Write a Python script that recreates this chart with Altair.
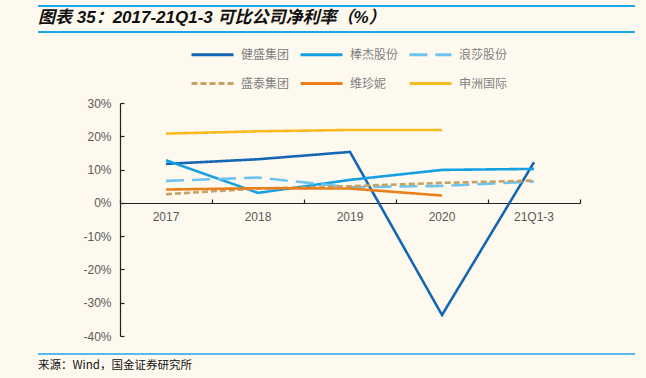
import altair as alt
import pandas as pd

periods = ["2017", "2018", "2019", "2020", "21Q1-3"]
companies = ["健盛集团", "棒杰股份", "浪莎股份", "盛泰集团", "维珍妮", "申洲国际"]
jiansheng = [11.7, 13.1, 15.3, -33.7, 12.2]
bangjie = [12.8, 3.0, 6.9, 9.9, 10.2]
langsha = [6.6, 7.6, 4.7, 5.1, 6.4]
shengtai = [2.6, 4.3, 5.0, 6.0, 6.7]
vinjing = [4.0, 4.4, 4.3, 2.2, None]
shenzhou = [20.8, 21.5, 21.9, 21.9, None]
colors = ["#1467B3", "#14A0E2", "#6EC4F0", "#C4A266", "#E9801B", "#F7BA1F"]
dashes = [[1, 0], [1, 0], [18, 8], [6, 3], [1, 0], [1, 0]]

series = [jiansheng, bangjie, langsha, shengtai, vinjing, shenzhou]
rows = []
for name, vals in zip(companies, series):
    for p, v in zip(periods, vals):
        if v is not None:
            rows.append({"period": p, "company": name, "value": v})
df = pd.DataFrame(rows)

# legend grid is filled column by column, so order the domain accordingly
legend_order = [0, 3, 1, 4, 2, 5]
dom = [companies[i] for i in legend_order]
col_range = [colors[i] for i in legend_order]
dash_range = [dashes[i] for i in legend_order]

W, H = 460, 233
FONT = "Liberation Sans, Noto Sans CJK SC"
CJK = "Noto Sans CJK SC"

legend_kw = dict(orient="none", legendX=70, legendY=-71, columns=3,
                 symbolType="stroke", symbolSize=1764, symbolStrokeWidth=3,
                 labelOffset=6, columnPadding=4, rowPadding=-18,
                 labelFontSize=12, labelColor="#7F7F7F", labelFont=CJK, labelLimit=0)

lines = alt.Chart(df).mark_line(strokeWidth=2.6).encode(
    x=alt.X("period:N", sort=periods, title=None,
            scale=alt.Scale(domain=periods, paddingInner=0, paddingOuter=0),
            axis=alt.Axis(orient="bottom", offset=-133, ticks=False, labelAngle=0,
                          labelPadding=8, labelFontSize=12, labelColor="#595959",
                          labelFont=FONT, domainColor="#222222", domainWidth=1.2,
                          grid=False)),
    y=alt.Y("value:Q", scale=alt.Scale(domain=[-40, 30], nice=False), title=None,
            axis=alt.Axis(orient="left", ticks=False, values=list(range(-40, 31, 10)),
                          labelExpr="datum.value + '%'", labelPadding=9,
                          labelFontSize=12, labelColor="#595959", labelFont=FONT,
                          domainColor="#222222", domainWidth=1.2, grid=False)),
    color=alt.Color("company:N", title=None,
                    scale=alt.Scale(domain=dom, range=col_range),
                    legend=alt.Legend(**legend_kw)),
    strokeDash=alt.StrokeDash("company:N", title=None,
                              scale=alt.Scale(domain=dom, range=dash_range),
                              legend=alt.Legend(**legend_kw)),
    order=alt.Order("period_idx:Q"),
).transform_calculate(
    period_idx="indexof(['2017','2018','2019','2020','21Q1-3'], datum.period)"
)

ticks_layer = alt.Chart(df).mark_line(opacity=0).encode(
    x=alt.X("period:N", sort=periods, title=None,
            scale=alt.Scale(domain=periods, paddingInner=0, paddingOuter=0),
            axis=alt.Axis(orient="top", offset=-100, labels=False, domain=False,
                          ticks=True, tickSize=4, tickBand="extent", tickColor="#222222",
                          tickWidth=1.2, grid=False)),
    y=alt.Y("value:Q", scale=alt.Scale(domain=[-40, 30], nice=False), title=None,
            axis=alt.Axis(orient="right", offset=-W, labels=False, domain=False,
                          ticks=True, tickSize=4, values=list(range(-40, 31, 10)),
                          tickColor="#222222", tickWidth=1.2, grid=False)),
    detail="company:N",
)

one = pd.DataFrame({"a": [0]})
blue = "#1CA3E8"
top_rule = alt.Chart(one).mark_rule(color=blue, strokeWidth=2).encode(
    x=alt.value(-82), x2=alt.value(515), y=alt.value(-97))
under_rule = alt.Chart(one).mark_rule(color=blue, strokeWidth=2).encode(
    x=alt.value(-82), x2=alt.value(515), y=alt.value(-71))
bottom_rule = alt.Chart(one).mark_rule(color=blue, strokeWidth=1.5).encode(
    x=alt.value(-82), x2=alt.value(515), y=alt.value(251))
title_txt = alt.Chart(one).mark_text(
    text="图表 35：2017-21Q1-3 可比公司净利率（%）", font=FONT, fontSize=17,
    fontWeight="bold", fontStyle="italic", color="#111111", align="left",
    baseline="middle").encode(x=alt.value(-82), y=alt.value(-85))
source_txt = alt.Chart(one).mark_text(
    text="来源：Wind，国金证券研究所", font=CJK, fontSize=11.5, color="#111111",
    align="left", baseline="middle").encode(x=alt.value(-82), y=alt.value(263))

chart = alt.layer(
    lines, ticks_layer, top_rule, under_rule, bottom_rule, title_txt, source_txt
).resolve_axis(x="independent", y="independent").properties(
    width=W, height=H,
    padding={"left": 120, "top": 103, "right": 66, "bottom": 42},
    autosize=alt.AutoSizeParams(type="none"),
    background="#FEF9EF",
).configure_view(stroke=None)

chart.save("out.html", embed_options={"renderer": "svg", "actions": False})
